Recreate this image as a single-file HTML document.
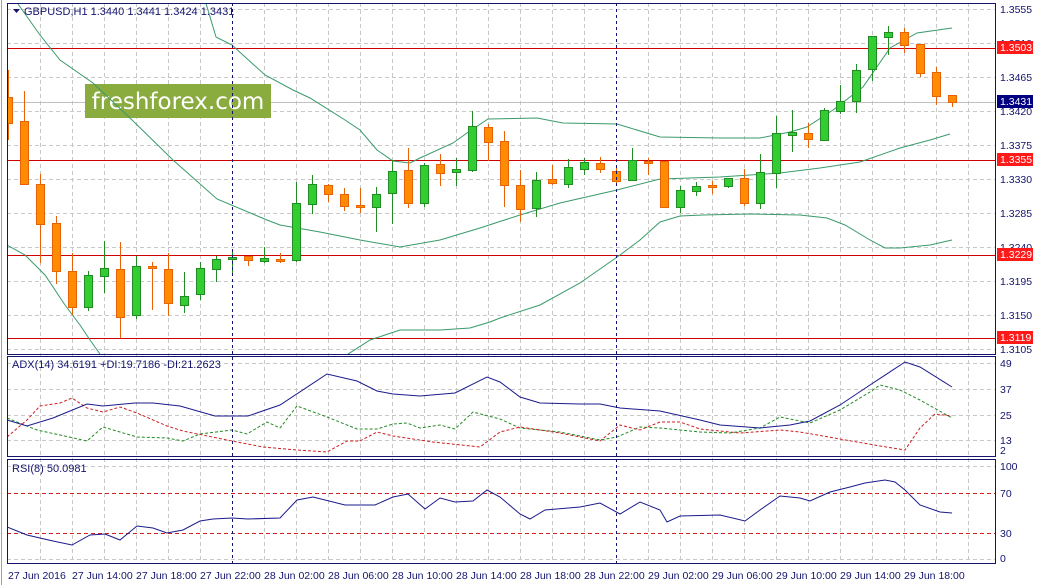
<!DOCTYPE html>
<html><head><meta charset="utf-8"><style>
html,body{margin:0;padding:0;background:#fff;}
svg{display:block;font-family:"Liberation Sans",sans-serif;}
</style></head><body>
<svg width="1037" height="585" viewBox="0 0 1037 585" xmlns="http://www.w3.org/2000/svg">
<defs>
<clipPath id="cm"><rect x="7" y="3" width="988" height="351"/></clipPath>
<clipPath id="ca"><rect x="7" y="356" width="988" height="100"/></clipPath>
<clipPath id="cr"><rect x="7" y="459" width="988" height="104"/></clipPath>
</defs>
<rect width="1037" height="585" fill="#fff"/>
<line x1="1.5" y1="0" x2="1.5" y2="585" stroke="#a0a0a0"/>
<g stroke="#c8c8c8" stroke-dasharray="4,3">
<path d="M40.5 3V563M72.5 3V563M104.5 3V563M136.5 3V563M168.5 3V563M200.5 3V563M264.5 3V563M296.5 3V563M328.5 3V563M360.5 3V563M392.5 3V563M424.5 3V563M456.5 3V563M488.5 3V563M520.5 3V563M552.5 3V563M584.5 3V563M648.5 3V563M680.5 3V563M712.5 3V563M744.5 3V563M776.5 3V563M808.5 3V563M840.5 3V563M872.5 3V563M904.5 3V563M936.5 3V563M968.5 3V563"/>
<path d="M7 9.5H995M7 43.5H995M7 77.5H995M7 111.5H995M7 145.5H995M7 179.5H995M7 213.5H995M7 247.5H995M7 281.5H995M7 315.5H995M7 349.5H995"/>
<path d="M7 363.5H995M7 389.5H995M7 415.5H995M7 440.5H995"/>
<path d="M7 466.5H995M7 559.5H995"/>
</g>
<line x1="7" y1="102.5" x2="995" y2="102.5" stroke="#c0c0c0"/>
<rect x="85" y="84" width="186" height="34" fill="#8aab3d"/>
<text x="178" y="109" font-size="23" fill="#fff" text-anchor="middle" font-family="'DejaVu Sans',sans-serif">freshforex.com</text>
<g stroke="#d00000" stroke-width="1">
<path d="M7 48.5H995M7 160.5H995M7 255.5H995M7 338.5H995"/>
</g>
<g clip-path="url(#cm)" fill="none" stroke="#3a9a6a" stroke-width="1">
<polyline points="205,0 216,37 232,45 265,75 293,90 310,98 345,120 360,130 377,150 393,161 410,163 420,158 453,143 467,133 488,119 537,118 563,123 617,124 660,137 720,138 760,138 790,132 807,127 833,110 863,87 890,48 917,33 952,28"/>
<polyline points="18,4 40,35 60,60 93,83 130,118 173,160 217,199 267,220 280,225 320,232 360,240 400,247 440,240 480,228 520,215 560,203 617,190 660,179 720,177 780,173 820,168 860,162 900,148 930,140 950,134"/>
<polyline points="7,245 25,255 45,275 65,305 80,325 90,340 100,354"/>
<polyline points="345,356 370,340 400,330 440,330 470,328 490,322 500,318 540,305 580,283 620,255 640,240 660,222 680,216 703,215 750,214 800,215 827,218 845,225 870,240 885,248 900,248 930,245 952,240"/>
</g>
<g clip-path="url(#cm)" stroke-width="1">
<g stroke="#228b22" fill="#32cd32">
<path d="M88.5 271V311M104.5 241V293M136.5 256V319M184.5 272V313M200.5 262V300M216.5 256V282M232.5 250V276M264.5 247V263M296.5 182V262M312.5 175V214M376.5 187V232M392.5 160V224M424.5 163V207M456.5 158V186M472.5 111V172M536.5 172V217M568.5 159V188M584.5 158V175M632.5 148V180M680.5 186V213M696.5 182V196M728.5 178V188M760.5 154V209M776.5 116V188M792.5 110V152M824.5 108V140M840.5 85V114M856.5 64V113M872.5 36V81M888.5 26V55"/>
<rect x="84.5" y="275.5" width="8" height="32"/>
<rect x="100.5" y="268.5" width="8" height="8"/>
<rect x="132.5" y="266.5" width="8" height="49"/>
<rect x="180.5" y="296.5" width="8" height="9"/>
<rect x="196.5" y="268.5" width="8" height="26"/>
<rect x="212.5" y="259.5" width="8" height="10"/>
<rect x="228.5" y="257.5" width="8" height="2"/>
<rect x="260.5" y="258.5" width="8" height="3"/>
<rect x="292.5" y="203.5" width="8" height="57"/>
<rect x="308.5" y="184.5" width="8" height="20"/>
<rect x="372.5" y="194.5" width="8" height="13"/>
<rect x="388.5" y="171.5" width="8" height="22"/>
<rect x="420.5" y="165.5" width="8" height="38"/>
<rect x="452.5" y="169.5" width="8" height="3"/>
<rect x="468.5" y="126.5" width="8" height="44"/>
<rect x="532.5" y="180.5" width="8" height="28"/>
<rect x="564.5" y="167.5" width="8" height="17"/>
<rect x="580.5" y="162.5" width="8" height="7"/>
<rect x="628.5" y="160.5" width="8" height="20"/>
<rect x="676.5" y="190.5" width="8" height="17"/>
<rect x="692.5" y="186.5" width="8" height="5"/>
<rect x="724.5" y="178.5" width="8" height="8"/>
<rect x="756.5" y="172.5" width="8" height="31"/>
<rect x="772.5" y="133.5" width="8" height="40"/>
<rect x="788.5" y="132.5" width="8" height="3"/>
<rect x="820.5" y="110.5" width="8" height="30"/>
<rect x="836.5" y="101.5" width="8" height="10"/>
<rect x="852.5" y="70.5" width="8" height="31"/>
<rect x="868.5" y="36.5" width="8" height="33"/>
<rect x="884.5" y="32.5" width="8" height="5"/>
</g>
<g stroke="#e8620a" fill="#ff8c00">
<path d="M8.5 70V140M24.5 91V184M40.5 174V263M56.5 216V284M72.5 253V315M120.5 242V338M152.5 262V310M168.5 253V316M248.5 256V266M280.5 253V263M328.5 184V202M344.5 188V211M360.5 188V213M408.5 148V208M440.5 154V186M488.5 124V161M504.5 131V207M520.5 170V222M552.5 165V185M600.5 157V173M616.5 166V185M648.5 158V175M664.5 161V208M712.5 181V194M744.5 169V206M808.5 123V148M904.5 28V53M920.5 44V77M936.5 67V105M952.5 95V107"/>
<rect x="4.5" y="97.5" width="8" height="26"/>
<rect x="20.5" y="121.5" width="8" height="63"/>
<rect x="36.5" y="184.5" width="8" height="40"/>
<rect x="52.5" y="223.5" width="8" height="48"/>
<rect x="68.5" y="271.5" width="8" height="36"/>
<rect x="116.5" y="269.5" width="8" height="48"/>
<rect x="148.5" y="266.5" width="8" height="2"/>
<rect x="164.5" y="269.5" width="8" height="34"/>
<rect x="244.5" y="256.5" width="8" height="4"/>
<rect x="276.5" y="259.5" width="8" height="2"/>
<rect x="324.5" y="185.5" width="8" height="9"/>
<rect x="340.5" y="194.5" width="8" height="12"/>
<rect x="356.5" y="205.5" width="8" height="2"/>
<rect x="404.5" y="170.5" width="8" height="33"/>
<rect x="436.5" y="164.5" width="8" height="9"/>
<rect x="484.5" y="127.5" width="8" height="15"/>
<rect x="500.5" y="141.5" width="8" height="44"/>
<rect x="516.5" y="185.5" width="8" height="24"/>
<rect x="548.5" y="179.5" width="8" height="4"/>
<rect x="596.5" y="163.5" width="8" height="6"/>
<rect x="612.5" y="171.5" width="8" height="10"/>
<rect x="644.5" y="161.5" width="8" height="2"/>
<rect x="660.5" y="161.5" width="8" height="46"/>
<rect x="708.5" y="185.5" width="8" height="2"/>
<rect x="740.5" y="178.5" width="8" height="25"/>
<rect x="804.5" y="133.5" width="8" height="6"/>
<rect x="900.5" y="32.5" width="8" height="13"/>
<rect x="916.5" y="44.5" width="8" height="29"/>
<rect x="932.5" y="72.5" width="8" height="24"/>
<rect x="948.5" y="95.5" width="8" height="7"/>
</g>
</g>
<g clip-path="url(#ca)" fill="none" stroke-width="1">
<polyline stroke="#228b22" stroke-dasharray="3,2" points="7,418 27,426 37,430 60,435 87,441 103,427 120,432 137,437 167,438 183,441 200,434 232,430 247,434 267,422 280,428 297,406 327,417 357,429 377,429 393,424 407,423 420,428 440,425 455,429 473,412 500,419 520,428 560,432 600,440 617,437 640,427 660,428 700,432 730,433 760,428 780,417 810,423 840,410 870,392 880,385 900,390 920,400 952,418"/>
<polyline stroke="#cc2020" stroke-dasharray="3,2" points="7,437 27,420 40,406 60,403 72,398 87,408 103,412 120,407 137,413 167,426 183,431 232,441 263,447 297,450 327,452 347,441 360,441 377,432 393,436 433,442 480,447 500,432 520,427 560,433 600,441 620,425 640,430 660,422 680,422 700,429 740,433 780,430 800,432 840,439 880,446 905,450 920,428 935,414 952,416"/>
<polyline stroke="#1a1a8c" points="7,420 27,426 53,418 87,404 103,406 135,403 153,403 180,406 215,416 248,416 280,405 327,374 357,381 377,391 393,394 420,396 455,393 487,377 500,382 520,397 540,403 580,404 600,404 620,408 660,411 700,420 720,425 760,428 790,425 810,421 840,405 870,385 905,362 920,367 952,387"/>
</g>
<g stroke="#d02020" stroke-dasharray="4,3"><path d="M7 493.5H995M7 533.5H995"/></g>
<polyline clip-path="url(#cr)" fill="none" stroke="#1a1a8c" points="7,527 27,535 53,541 72,545 90,535 105,534 120,540 137,526 153,528 167,533 183,530 200,521 213,519 232,518 248,519 280,518 297,500 313,497 345,505 375,505 393,497 408,494 425,509 440,498 455,502 473,501 487,490 500,497 520,514 530,519 545,510 580,507 600,503 620,514 640,502 660,510 667,522 680,516 720,515 745,521 760,510 780,496 800,498 810,501 830,492 850,487 865,483 885,480 895,482 905,490 920,505 940,512 952,513"/>
<g stroke="#14146e" stroke-dasharray="3,3"><path d="M232.5 3V563M616.5 3V563"/></g>
<g fill="none" stroke="#14146e" stroke-width="1">
<rect x="7.5" y="3.5" width="988" height="351"/>
<rect x="7.5" y="356.5" width="988" height="100"/>
<rect x="7.5" y="459.5" width="988" height="104"/>
</g>
<path d="M13 9h7l-3.5 4z" fill="#14146e"/>
<text x="24" y="15" font-size="11" fill="#14146e">GBPUSD,H1  1.3440 1.3441 1.3424 1.3431</text>
<text x="12" y="368" font-size="11" fill="#14146e">ADX(14) 34.6191 +DI:19.7186 -DI:21.2623</text>
<text x="12" y="472" font-size="11" fill="#14146e">RSI(8) 50.0981</text>
<g font-size="10.5" fill="#14146e">
<text x="1000" y="13">1.3555</text>
<text x="1000" y="47">1.3510</text>
<text x="1000" y="81">1.3465</text>
<text x="1000" y="115">1.3420</text>
<text x="1000" y="149">1.3375</text>
<text x="1000" y="183">1.3330</text>
<text x="1000" y="217">1.3285</text>
<text x="1000" y="251">1.3240</text>
<text x="1000" y="285">1.3195</text>
<text x="1000" y="319">1.3150</text>
<text x="1000" y="353">1.3105</text>
<text x="1000" y="367">49</text>
<text x="1000" y="393">37</text>
<text x="1000" y="419">25</text>
<text x="1000" y="444">13</text>
<text x="1000" y="454">2</text>
<text x="1000" y="470">100</text>
<text x="1000" y="497">70</text>
<text x="1000" y="537">30</text>
<text x="1000" y="562">0</text>
</g>
<g fill="#ff1a1a">
<rect x="997" y="41" width="36" height="13"/>
<rect x="997" y="153" width="36" height="13"/>
<rect x="997" y="248" width="36" height="13"/>
<rect x="997" y="331" width="36" height="13"/>
</g>
<rect x="997" y="95" width="36" height="13" fill="#000080"/>
<g font-size="10.5" fill="#fff">
<text x="1000" y="51">1.3503</text>
<text x="1000" y="105">1.3431</text>
<text x="1000" y="163">1.3355</text>
<text x="1000" y="258">1.3229</text>
<text x="1000" y="341">1.3119</text>
</g>
<g font-size="10.5" fill="#14146e">
<text x="8" y="579">27 Jun 2016</text>
<text x="72" y="579">27 Jun 14:00</text>
<text x="136" y="579">27 Jun 18:00</text>
<text x="200" y="579">27 Jun 22:00</text>
<text x="264" y="579">28 Jun 02:00</text>
<text x="328" y="579">28 Jun 06:00</text>
<text x="392" y="579">28 Jun 10:00</text>
<text x="456" y="579">28 Jun 14:00</text>
<text x="520" y="579">28 Jun 18:00</text>
<text x="584" y="579">28 Jun 22:00</text>
<text x="648" y="579">29 Jun 02:00</text>
<text x="712" y="579">29 Jun 06:00</text>
<text x="776" y="579">29 Jun 10:00</text>
<text x="840" y="579">29 Jun 14:00</text>
<text x="904" y="579">29 Jun 18:00</text>
</g>
</svg>
</body></html>
